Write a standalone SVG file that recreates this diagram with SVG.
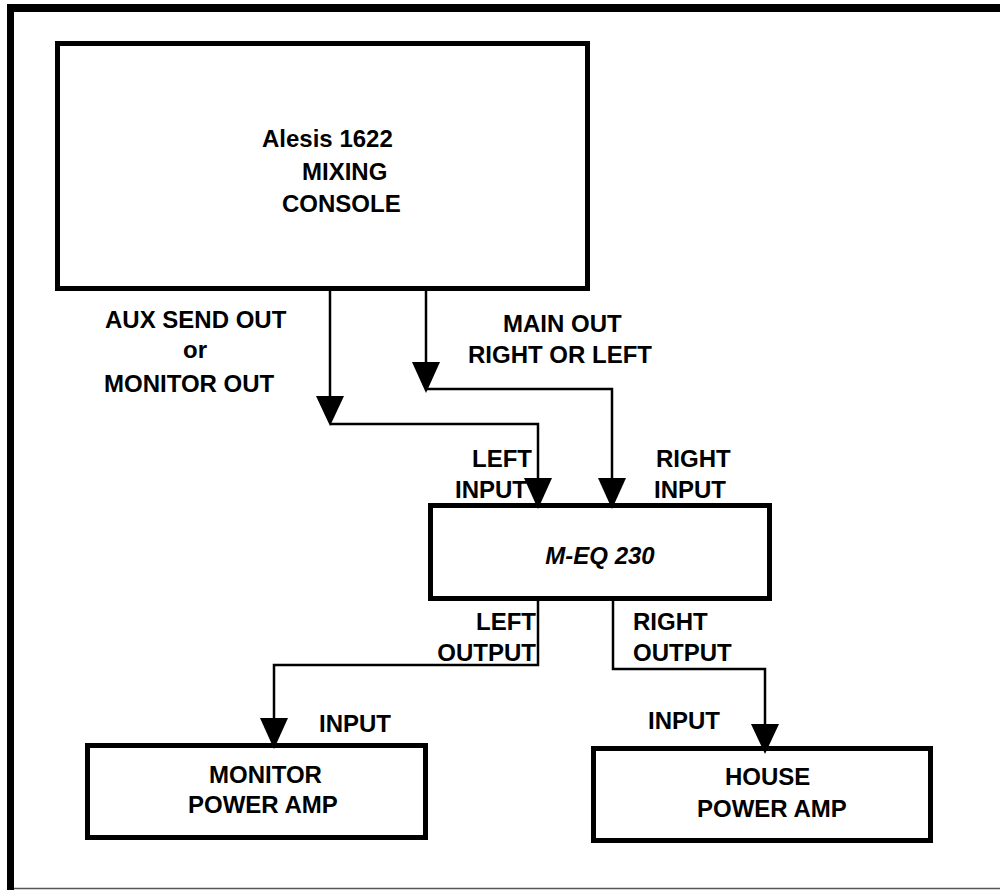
<svg xmlns="http://www.w3.org/2000/svg" width="1000" height="890" viewBox="0 0 1000 890">
<style>
.box{fill:#fff;stroke:#000;stroke-width:5}
.ln{fill:none;stroke:#000;stroke-width:2.5}
.ah{fill:#000;stroke:none}
text{font-family:"Liberation Sans",Arial,sans-serif;font-weight:bold;font-size:24px;fill:#000}
.it{font-style:italic}
</style>
<rect width="1000" height="890" fill="#fff"/>
<g id="frame">
<rect x="7" y="4" width="993" height="8" fill="#000"/>
<rect x="7" y="4" width="7" height="886" fill="#000"/>
<line x1="14" y1="888.5" x2="1000" y2="888.5" stroke="#555" stroke-width="1.5"/>
</g>
<g id="console">
<rect class="box" x="57.5" y="43.5" width="530" height="245"/>
<text x="262" y="147">Alesis 1622</text>
<text x="302" y="180">MIXING</text>
<text x="282" y="212">CONSOLE</text>
</g>
<g id="meq">
<rect class="box" x="430.5" y="505.5" width="339" height="93"/>
<text class="it" x="600" y="564" text-anchor="middle">M-EQ 230</text>
</g>
<g id="monitor-amp">
<rect class="box" x="87.5" y="745.5" width="338" height="92"/>
<text x="209" y="783">MONITOR</text>
<text x="188" y="813">POWER AMP</text>
</g>
<g id="house-amp">
<rect class="box" x="593.5" y="748.5" width="337" height="92"/>
<text x="725" y="785">HOUSE</text>
<text x="697" y="817">POWER AMP</text>
</g>
<g id="connectors">
<polyline class="ln" points="330,291 330,410"/>
<polygon class="ah" points="316,396 344,396 330,426"/>
<polyline class="ln" points="330,424 538,424 538,495"/>
<polygon class="ah" points="524,478 552,478 538,509"/>
<polyline class="ln" points="426,291 426,378"/>
<polygon class="ah" points="412,362 440,362 426,393"/>
<polyline class="ln" points="426,389 612,389 612,495"/>
<polygon class="ah" points="598,478 626,478 612,509"/>
<polyline class="ln" points="538,601 538,665 274,665 274,735"/>
<polygon class="ah" points="260,718 288,718 274,749"/>
<polyline class="ln" points="613,601 613,669 765,669 765,740"/>
<polygon class="ah" points="751,724 779,724 765,754"/>
</g>
<g id="labels">
<text x="105" y="328">AUX SEND OUT</text>
<text x="183" y="358">or</text>
<text x="104" y="392">MONITOR OUT</text>
<text x="503" y="332">MAIN OUT</text>
<text x="468" y="363">RIGHT OR LEFT</text>
<text x="472" y="467">LEFT</text>
<text x="455" y="498">INPUT</text>
<text x="656" y="467">RIGHT</text>
<text x="654" y="498">INPUT</text>
<text x="536" y="630" text-anchor="end">LEFT</text>
<text x="536" y="661" text-anchor="end">OUTPUT</text>
<text x="633" y="630">RIGHT</text>
<text x="633" y="661">OUTPUT</text>
<text x="319" y="732">INPUT</text>
<text x="648" y="729">INPUT</text>
</g>
</svg>
